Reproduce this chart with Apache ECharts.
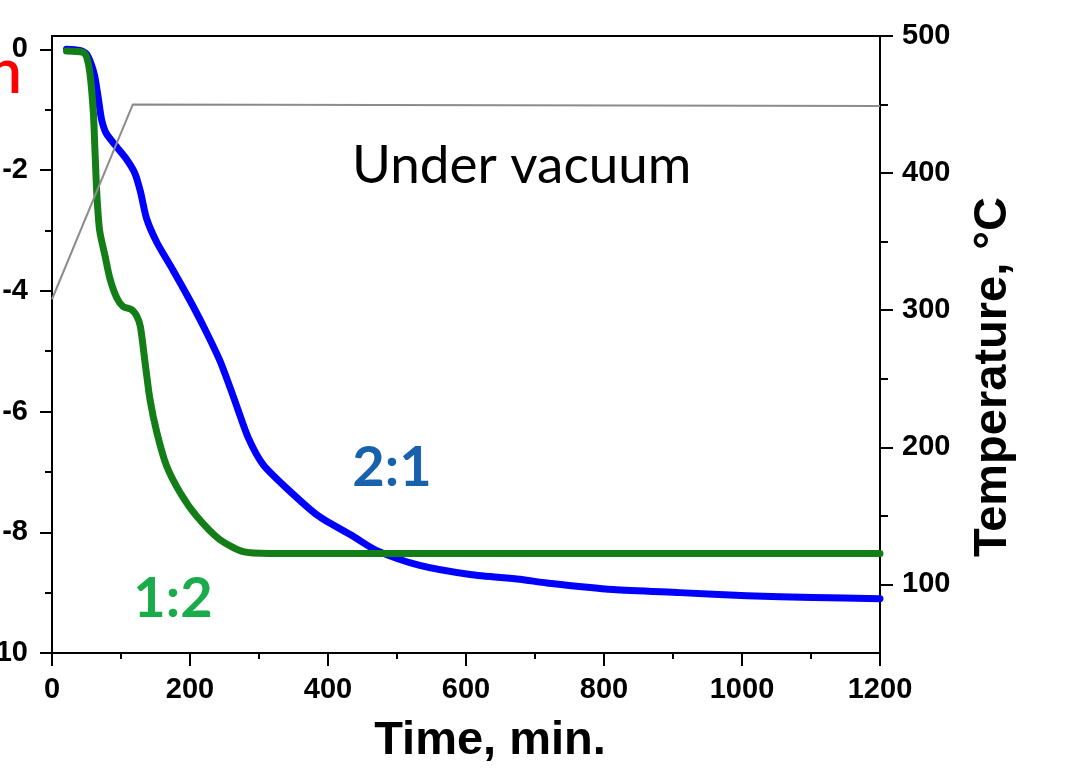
<!DOCTYPE html>
<html>
<head>
<meta charset="utf-8">
<title>Mass change and temperature vs time</title>
<script src="https://cdn.jsdelivr.net/npm/echarts@6/dist/echarts.min.js"></script>
<style>
  html, body { margin: 0; padding: 0; background: #fff; }
  #chart { width: 1074px; height: 781px; }
</style>
</head>
<body>
<div id="chart"></div>
<script>
// Time (min) and mass change for the 2:1 sample
const ratio21 = [
  [21, 0], [40, -0.02], [50, -0.08], [57, -0.25], [62, -0.45], [67, -0.8],
  [72, -1.17], [79, -1.4], [94, -1.62], [108, -1.82], [120, -2.05], [128, -2.35],
  [137, -2.8], [152, -3.2], [175, -3.65], [198, -4.12], [220, -4.6], [243, -5.15],
  [258, -5.6], [268, -5.92], [285, -6.45], [306, -6.88], [340, -7.27], [386, -7.73],
  [437, -8.07], [470, -8.3], [533, -8.55], [606, -8.7], [678, -8.78], [717, -8.84],
  [813, -8.95], [910, -9.0], [1007, -9.05], [1103, -9.08], [1200, -9.1]
];

// Time (min) and mass change for the 1:2 sample
const ratio12 = [
  [21, -0.03], [45, -0.05], [50, -0.12], [55, -0.4], [60, -1.06], [62, -1.6],
  [65, -2.4], [69, -3.0], [77, -3.43], [84, -3.8], [94, -4.12], [103, -4.26],
  [115, -4.31], [122, -4.4], [128, -4.59], [135, -5.2], [142, -5.8], [152, -6.35],
  [166, -6.9], [186, -7.35], [210, -7.74], [243, -8.12], [277, -8.32], [316, -8.35],
  [1200, -8.35]
];

// Furnace temperature programme (°C)
const temperature = [[0, 308], [117, 450], [1200, 449]];

// Tick positions
const massMajor = [-10, -8, -6, -4, -2, 0];
const massMinor = [-9, -7, -5, -3, -1];
const tempMajor = [100, 200, 300, 400, 500];
const tempMinor = [150, 250, 350, 450];

const AXIS_FONT = 'Liberation Sans, Arial, sans-serif';
const HAND_FONT = 'Lato, Open Sans, sans-serif';

const chart = echarts.init(document.getElementById('chart'), null, { renderer: 'canvas' });

const black = { color: '#000', width: 2 };
const tickLabel = { color: '#000', fontSize: 29, fontWeight: 'bold', fontFamily: AXIS_FONT };
const plain = v => String(v);

chart.setOption({
  animation: false,
  backgroundColor: '#fff',
  grid: { left: 52, right: 194, top: 36, bottom: 128, containLabel: false, outerBoundsMode: 'none' },
  xAxis: [
    {
      type: 'value', position: 'bottom', min: 0, max: 1200, interval: 200,
      axisLine: { show: true, onZero: false, lineStyle: black },
      axisTick: { show: true, inside: false, length: 13, lineStyle: black },
      minorTick: { show: true, splitNumber: 2, length: 6, lineStyle: black },
      axisLabel: Object.assign({ margin: 22, formatter: plain }, tickLabel),
      splitLine: { show: false }
    },
    {
      type: 'value', position: 'top', min: 0, max: 1200,
      axisLine: { show: true, onZero: false, lineStyle: black },
      axisTick: { show: false }, axisLabel: { show: false }, splitLine: { show: false }
    }
  ],
  yAxis: [
    {
      type: 'value', position: 'left', min: -10, max: 0.22,
      axisLine: { show: true, onZero: false, lineStyle: black },
      axisTick: { show: true, inside: false, length: 12, lineStyle: black, customValues: massMajor },
      axisLabel: Object.assign({ margin: 24, customValues: massMajor, formatter: plain }, tickLabel),
      splitLine: { show: false }
    },
    {
      type: 'value', position: 'left', min: -10, max: 0.22,
      axisLine: { show: false, onZero: false },
      axisTick: { show: true, inside: false, length: 7, lineStyle: black, customValues: massMinor },
      axisLabel: { show: false }, splitLine: { show: false }
    },
    {
      type: 'value', position: 'right', min: 50, max: 500,
      axisLine: { show: true, onZero: false, lineStyle: black },
      axisTick: { show: true, inside: false, length: 13, lineStyle: black, customValues: tempMajor },
      axisLabel: Object.assign({ margin: 22, customValues: tempMajor, formatter: plain }, tickLabel),
      splitLine: { show: false }
    },
    {
      type: 'value', position: 'right', min: 50, max: 500,
      axisLine: { show: false, onZero: false },
      axisTick: { show: true, inside: false, length: 8, lineStyle: black, customValues: tempMinor },
      axisLabel: { show: false }, splitLine: { show: false }
    }
  ],
  series: [
    {
      name: '2:1', type: 'line', xAxisIndex: 0, yAxisIndex: 0, data: ratio21,
      showSymbol: false, smooth: 0.25,
      lineStyle: { color: '#0000ff', width: 7, cap: 'round', join: 'round' }, z: 3
    },
    {
      name: '1:2', type: 'line', xAxisIndex: 0, yAxisIndex: 0, data: ratio12,
      showSymbol: false, smooth: 0.25,
      lineStyle: { color: '#137d18', width: 7, cap: 'round', join: 'round' }, z: 4
    },
    {
      name: 'Temperature', type: 'line', xAxisIndex: 0, yAxisIndex: 2, data: temperature,
      showSymbol: false,
      lineStyle: { color: '#8c8c8c', width: 2 }, z: 5
    }
  ],
  graphic: [
    {
      type: 'text', x: 22, y: 104, z: 10,
      style: { text: 'n', fill: '#ff0000', font: '600 62px ' + HAND_FONT, align: 'right', verticalAlign: 'bottom' }
    },
    {
      type: 'text', x: 352, y: 166, z: 10,
      style: { text: 'Under vacuum', fill: '#000', font: '53px ' + HAND_FONT, align: 'left', verticalAlign: 'middle' }
    },
    {
      type: 'text', x: 392, y: 468, z: 10,
      style: { text: '2:1', fill: '#1862ad', font: 'bold 56px ' + HAND_FONT, align: 'center', verticalAlign: 'middle' }
    },
    {
      type: 'text', x: 173, y: 599, z: 10,
      style: { text: '1:2', fill: '#1aab4a', font: 'bold 56px ' + HAND_FONT, align: 'center', verticalAlign: 'middle' }
    },
    {
      type: 'text', x: 490, y: 741, z: 10,
      style: { text: 'Time, min.', fill: '#000', font: 'bold 47px ' + AXIS_FONT, align: 'center', verticalAlign: 'middle' }
    },
    {
      type: 'text', x: 993, y: 377, rotation: Math.PI / 2, z: 10,
      style: { text: 'Temperature, °C', fill: '#000', font: 'bold 47px ' + AXIS_FONT, align: 'center', verticalAlign: 'middle' }
    }
  ]
});
</script>
</body>
</html>
